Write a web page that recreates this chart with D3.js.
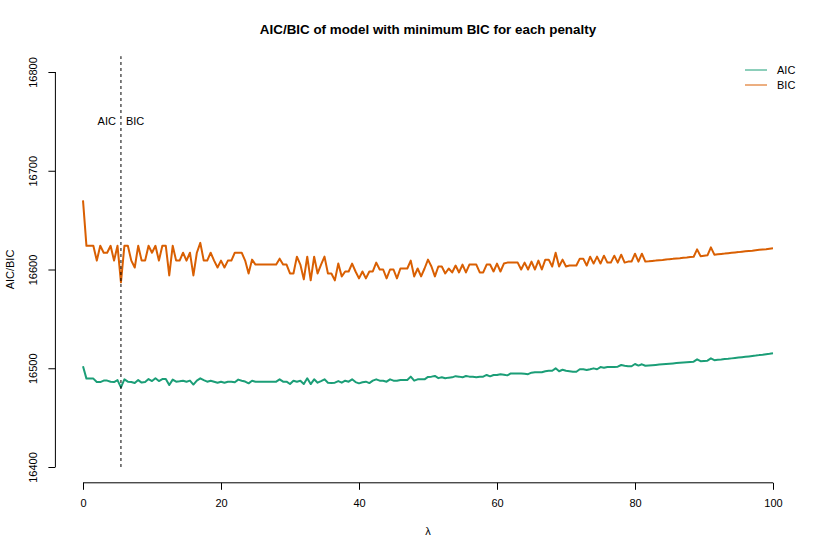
<!DOCTYPE html>
<html>
<head>
<meta charset="utf-8">
<script src="https://cdn.jsdelivr.net/npm/d3@7"></script>
<style>
  body { margin: 0; background: #fff; }
  svg { font-family: "Liberation Sans", Arial, Helvetica, sans-serif; }
</style>
</head>
<body>
<svg id="chart" width="830" height="554"></svg>
<script>
// lambda grid, 0 to 100 in steps of 0.5
const lambdas = d3.range(0, 100.001, 0.5);

// values, one row = 5 units of lambda
const bic = [
  16670, 16624, 16624, 16624, 16609, 16624, 16617, 16617, 16624, 16609,
  16624, 16587, 16624, 16624, 16609, 16602, 16624, 16609, 16609, 16624,
  16617, 16624, 16609, 16624, 16624, 16594, 16624, 16609, 16609, 16617,
  16609, 16617, 16594, 16617, 16627, 16609, 16609, 16617, 16609, 16602,
  16609, 16602, 16609, 16609, 16617, 16617, 16617, 16609, 16596, 16610,
  16605, 16605, 16605, 16605, 16605, 16605, 16605, 16611, 16605, 16605,
  16596, 16596, 16613, 16605, 16590, 16613, 16589, 16613, 16596, 16605,
  16613, 16596, 16596, 16589, 16606, 16593, 16598, 16598, 16606, 16598,
  16591, 16598, 16591, 16598, 16598, 16607, 16600, 16600, 16591, 16600,
  16600, 16591, 16601, 16601, 16601, 16609, 16593, 16601, 16593, 16601,
  16610, 16603, 16593, 16603, 16603, 16596, 16601, 16597, 16604, 16597,
  16605, 16597, 16605, 16605, 16605, 16597, 16597, 16605, 16605, 16598,
  16606, 16598, 16606, 16607, 16607, 16607, 16607, 16600, 16607, 16600,
  16608, 16600, 16609, 16600, 16610, 16610, 16603, 16617, 16603, 16610,
  16603, 16604, 16604, 16604, 16611, 16611, 16604, 16613, 16606, 16613,
  16606, 16614, 16607, 16607, 16614, 16607, 16615, 16607, 16608, 16608,
  16616, 16608, 16616, 16608, 16608.3, 16608.7, 16609, 16609.4, 16609.7, 16610.1,
  16610.5, 16610.8, 16611.2, 16611.5, 16611.9, 16612.2, 16612.6, 16612.9, 16620.4, 16613.5,
  16614, 16614.4, 16622.4, 16615, 16615.4, 16615.8, 16616.1, 16616.5, 16616.9, 16617.3,
  16617.6, 16618, 16618.4, 16618.8, 16619.1, 16619.5, 16619.9, 16620.3, 16620.6, 16621,
  16621.4
];

const aic = [
  16502, 16489.5, 16489.5, 16489.5, 16486, 16486, 16487.5, 16487.5, 16486.4, 16486,
  16488, 16480.7, 16488.8, 16486.4, 16486, 16485, 16488, 16485.5, 16486, 16489,
  16487, 16489.8, 16487, 16489, 16489, 16483, 16488.5, 16486.4, 16486.8, 16487.4,
  16486.4, 16487.5, 16483.5, 16487.5, 16489.8, 16488, 16486.4, 16487.4, 16486.4, 16485.4,
  16486.4, 16485.4, 16486.4, 16486.4, 16485.8, 16488.5, 16487.4, 16486.5, 16484.7, 16487.4,
  16486.4, 16486.4, 16486.4, 16486.4, 16486.4, 16486.4, 16486.4, 16488.8, 16486.4, 16486.4,
  16484, 16487.4, 16486.4, 16487.4, 16484, 16489.8, 16484, 16488.8, 16485.4, 16487,
  16488.8, 16485.4, 16485, 16485.4, 16487, 16485.4, 16487.4, 16486.4, 16488.8, 16486,
  16484.7, 16485.8, 16486.4, 16485, 16487.4, 16488.8, 16487.4, 16487.4, 16486.4, 16488.8,
  16487.4, 16487.4, 16488.1, 16488.1, 16488.1, 16491.5, 16487.4, 16488.8, 16488.8, 16488.8,
  16491.2, 16491.5, 16492.2, 16490, 16490.8, 16489.8, 16490.5, 16490.8, 16492, 16491.5,
  16490.8, 16492.2, 16491.5, 16491.5, 16491, 16491.5, 16491.5, 16493.2, 16491.8, 16493.2,
  16493.2, 16494, 16493.5, 16492.8, 16494.8, 16494.8, 16494.8, 16494.8, 16494.5, 16494,
  16495.5, 16496, 16496, 16496, 16497, 16497.5, 16497.5, 16499.9, 16497, 16498.5,
  16497.5, 16497, 16496.5, 16496.5, 16499, 16499, 16498.2, 16499, 16499.9, 16499,
  16501.2, 16500.5, 16501.3, 16501.2, 16501.2, 16501.6, 16503.3, 16502.5, 16502, 16502,
  16504.3, 16502.7, 16504, 16502.5, 16502.8, 16503.1, 16503.4, 16503.7, 16504, 16504.3,
  16504.6, 16504.9, 16505.2, 16505.5, 16505.8, 16506.1, 16506.4, 16506.7, 16509, 16507.1,
  16507.4, 16507.7, 16510, 16508.2, 16508.6, 16508.9, 16509.3, 16509.6, 16510, 16510.4,
  16510.8, 16511.2, 16511.6, 16512, 16512.4, 16512.8, 16513.3, 16513.7, 16514.2, 16514.6,
  16515.1
];

const xTicks = [0, 20, 40, 60, 80, 100];
const yTicks = [16400, 16500, 16600, 16700, 16800];
const seriesNames = ['AIC', 'BIC'];
const seriesColors = ['#1b9e77', '#d95f02'];
const bestLambda = 5.5;

const svg = d3.select('#chart');

// R style plot region: data range plus 4% on each side
const x = d3.scaleLinear().domain([-4, 104]).range([55.4, 800.6]);
const y = d3.scaleLinear().domain([16384, 16816]).range([482.8, 56.2]);

// x axis
const xAxis = svg.append('g')
  .attr('transform', `translate(0,${y.range()[0]})`)
  .call(d3.axisBottom(x).tickValues(xTicks).tickSize(7).tickSizeOuter(0).tickPadding(9));
xAxis.select('.domain').remove();
xAxis.append('line')
  .attr('x1', x(0)).attr('x2', x(100))
  .attr('stroke', '#000');
xAxis.selectAll('text').attr('font-size', 11).attr('fill', '#000');

// y axis, labels turned like R does
const yAxis = svg.append('g')
  .attr('transform', `translate(${x.range()[0]},0)`)
  .call(d3.axisLeft(y).tickValues(yTicks).tickSize(7).tickSizeOuter(0).tickFormat(d3.format('d')));
yAxis.select('.domain').remove();
yAxis.append('line')
  .attr('y1', y(16400)).attr('y2', y(16800))
  .attr('stroke', '#000');
yAxis.selectAll('.tick text')
  .attr('x', null).attr('dy', null)
  .attr('font-size', 11).attr('fill', '#000')
  .attr('text-anchor', 'middle')
  .attr('transform', 'translate(-18,0) rotate(-90)');

// series lines
const series = [aic, bic];
const line = d3.line()
  .x((d, i) => x(lambdas[i]))
  .y((d) => y(d));

svg.selectAll('path.series')
  .data(series)
  .enter()
  .append('path')
  .attr('class', 'series')
  .attr('d', (d) => line(d))
  .attr('fill', 'none')
  .attr('stroke', (d, i) => seriesColors[i])
  .attr('stroke-width', 2)
  .attr('stroke-linejoin', 'round');

// dashed line at the chosen lambda
svg.append('line')
  .attr('x1', x(bestLambda)).attr('x2', x(bestLambda))
  .attr('y1', y(16400)).attr('y2', y.range()[1])
  .attr('stroke', '#000')
  .attr('stroke-width', 1)
  .attr('stroke-dasharray', '3,3');

svg.append('text')
  .attr('x', x(bestLambda) - 5).attr('y', y(16750) + 4)
  .attr('text-anchor', 'end').attr('font-size', 11)
  .text('AIC');
svg.append('text')
  .attr('x', x(bestLambda) + 5).attr('y', y(16750) + 4)
  .attr('font-size', 11)
  .text('BIC');

// titles
svg.append('text')
  .attr('x', (x.range()[0] + x.range()[1]) / 2).attr('y', 34)
  .attr('text-anchor', 'middle')
  .attr('font-size', 13.4).attr('font-weight', 'bold')
  .text('AIC/BIC of model with minimum BIC for each penalty');

svg.append('text')
  .attr('x', (x.range()[0] + x.range()[1]) / 2).attr('y', 535)
  .attr('text-anchor', 'middle').attr('font-size', 11)
  .text('λ');

svg.append('text')
  .attr('transform', `translate(14,${(y.range()[0] + y.range()[1]) / 2}) rotate(-90)`)
  .attr('text-anchor', 'middle').attr('font-size', 11)
  .text('AIC/BIC');

// legend
const legend = svg.append('g')
  .selectAll('g')
  .data(seriesNames)
  .enter()
  .append('g')
  .attr('transform', (d, i) => `translate(0,${70 + i * 15})`);
legend.append('line')
  .attr('x1', 745).attr('x2', 767)
  .attr('stroke', (d, i) => seriesColors[i])
  .attr('stroke-width', 1);
legend.append('text')
  .attr('x', 777).attr('y', 4)
  .attr('font-size', 11)
  .text((d) => d);
</script>
</body>
</html>
